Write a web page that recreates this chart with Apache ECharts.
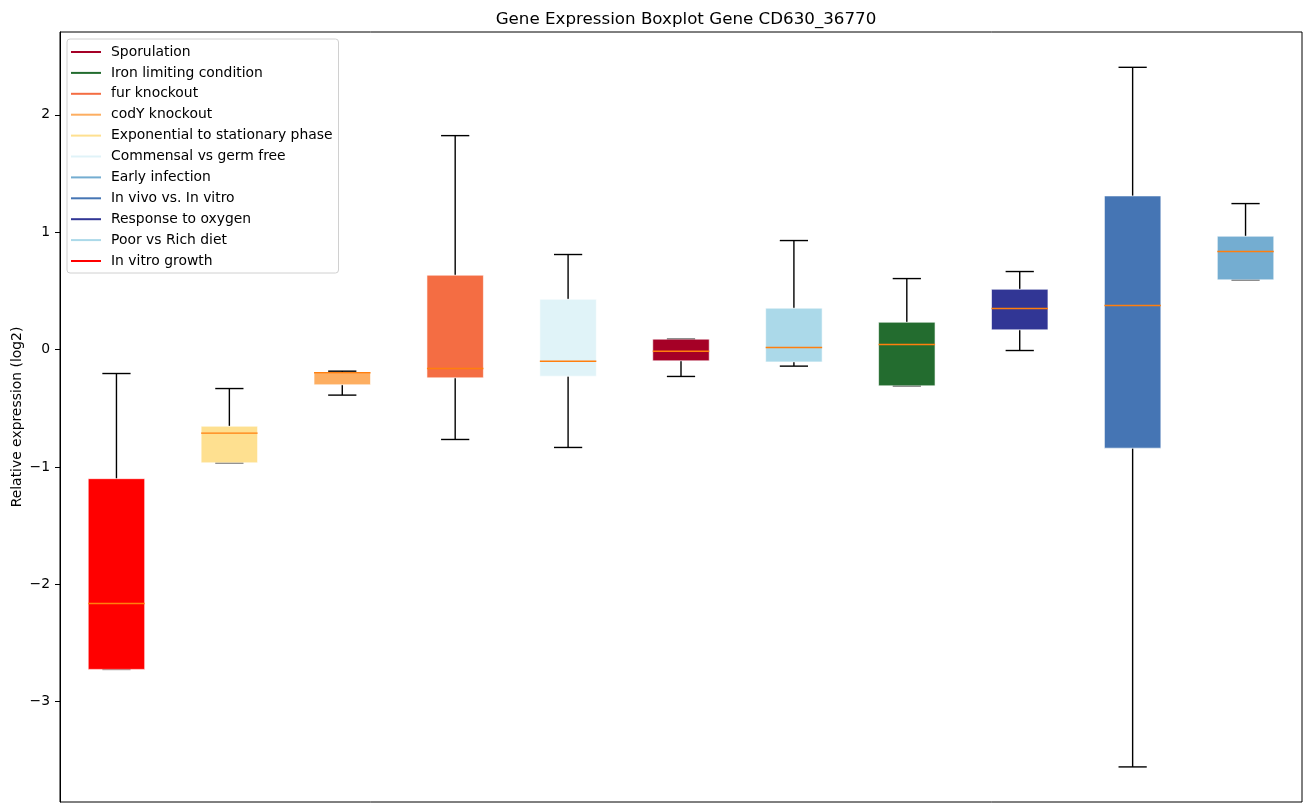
<!DOCTYPE html>
<html>
<head>
<meta charset="utf-8">
<script src="https://cdn.jsdelivr.net/npm/echarts@6/dist/echarts.min.js"></script>
<style>html,body{margin:0;padding:0;background:#fff;}#c{width:1309px;height:812px;}</style>
</head>
<body>
<div id="c"></div>
<script>
// Categories (box order left to right)
const categories = ["In vitro growth","Exponential to stationary phase","codY knockout","fur knockout","Commensal vs germ free","Sporulation","Poor vs Rich diet","Iron limiting condition","Response to oxygen","In vivo vs. In vitro","Early infection"];
// [min, Q1, median, Q3, max]
const mins    = [-2.725, -0.965, -0.388, -0.766, -0.834, -0.229, -0.141, -0.309, -0.008, -3.556, 0.594];
const q1s     = [-2.725, -0.965, -0.300, -0.241, -0.227, -0.096, -0.105, -0.309,  0.168, -0.840, 0.594];
const medians = [-2.163, -0.712, -0.198, -0.161, -0.099, -0.014,  0.018,  0.043,  0.350,  0.375, 0.836];
const q3s     = [-1.100, -0.653, -0.198,  0.634,  0.429,  0.089,  0.353,  0.233,  0.514,  1.309, 0.966];
const maxs    = [-0.204, -0.332, -0.184,  1.823,  0.810,  0.089,  0.929,  0.605,  0.665,  2.405, 1.244];
const boxColors = ["#ff0000","#fee090","#fdae61","#f46d43","#e0f3f8","#a50026","#abd9e9","#236c2f","#313695","#4575b4","#74add1"];
// Legend
const legendNames  = ["Sporulation","Iron limiting condition","fur knockout","codY knockout","Exponential to stationary phase","Commensal vs germ free","Early infection","In vivo vs. In vitro","Response to oxygen","Poor vs Rich diet","In vitro growth"];
const legendColors = ["#a50026","#236c2f","#f46d43","#fdae61","#fee090","#e0f3f8","#74add1","#4575b4","#313695","#abd9e9","#ff0000"];
const yTicks = [-3,-2,-1,0,1,2];

const FONT = "DejaVu Sans";
const chart = echarts.init(document.getElementById('c'), null, {renderer:'canvas'});

const boxData = categories.map((c,i)=>({value:[i, mins[i], q1s[i], medians[i], q3s[i], maxs[i]], itemStyle:{color:boxColors[i]}}));

const series = [{
  type:'custom',
  name:'boxes',
  data: boxData,
  encode:{x:0, y:[1,2,3,4,5]},
  renderItem:function(params, api){
    const x = api.value(0);
    const pMin = api.coord([x, api.value(1)]);
    const pQ1 = api.coord([x, api.value(2)]);
    const pMed = api.coord([x, api.value(3)]);
    const pQ3 = api.coord([x, api.value(4)]);
    const pMax = api.coord([x, api.value(5)]);
    const band = api.size([1,0])[0];
    const bw = band*0.5;
    const cw = bw*0.5;
    const cx = pMed[0];
    const lw = 1.4;
    const black = {stroke:'#000', lineWidth:lw};
    const color = boxColors[params.dataIndex];
    return {type:'group', children:[
      {type:'line', shape:{x1:cx,y1:pQ3[1],x2:cx,y2:pMax[1]}, style:black},
      {type:'line', shape:{x1:cx,y1:pQ1[1],x2:cx,y2:pMin[1]}, style:black},
      {type:'line', shape:{x1:cx-cw/2,y1:pMax[1],x2:cx+cw/2,y2:pMax[1]}, style:black},
      {type:'line', shape:{x1:cx-cw/2,y1:pMin[1],x2:cx+cw/2,y2:pMin[1]}, style:black},
      {type:'rect', shape:{x:cx-bw/2,y:pQ3[1],width:bw,height:Math.max(pQ1[1]-pQ3[1],0.5)}, style:{fill:color, stroke:'rgba(255,255,255,0.6)', lineWidth:1}},
      {type:'line', shape:{x1:cx-bw/2,y1:pMed[1],x2:cx+bw/2,y2:pMed[1]}, style:{stroke:'#ff7f0e', lineWidth:lw}}
    ]};
  }
}];
legendNames.forEach((n,i)=>{
  series.push({type:'line', name:n, data:[], itemStyle:{color:legendColors[i]}, lineStyle:{color:legendColors[i]}});
});

chart.setOption({
  backgroundColor:'#fff',
  animation:false,
  title:{text:'Gene Expression Boxplot Gene CD630_36770', left:681, top:6, textAlign:'center',
    textStyle:{fontFamily:FONT, fontSize:16.7, fontWeight:'normal', color:'#000'}},
  grid:{left:60, right:7, top:32, bottom:10, show:true, borderColor:'#000', borderWidth:1, containLabel:false, outerBoundsMode:'none'},
  legend:{
    data:legendNames, orient:'vertical', left:67, top:39,
    icon:'rect', itemWidth:30, itemHeight:2, itemGap:4.9,
    padding:[5,6,4,4], borderColor:'#d0d0d0', borderWidth:1, borderRadius:3, backgroundColor:'rgba(255,255,255,0.8)',
    textStyle:{fontFamily:FONT, fontSize:13.9, color:'#000', lineHeight:16, padding:[0,0,0,5]},
    selectedMode:false
  },
  xAxis:{type:'category', data:categories, boundaryGap:true, axisLine:{show:false}, axisTick:{show:false}, axisLabel:{show:false}, splitLine:{show:false}},
  yAxis:{type:'value', min:-3.855, max:2.706,
    name:'Relative expression (log2)', nameLocation:'middle', nameGap:36, nameRotate:90, nameMoveOverlap:false,
    nameTextStyle:{fontFamily:FONT, fontSize:13.9, color:'#000'},
    axisLine:{show:true, lineStyle:{color:'#000'}},
    axisTick:{show:true, length:5, lineStyle:{color:'#000'}, customValues:yTicks},
    axisLabel:{fontFamily:FONT, fontSize:13.9, color:'#000', margin:10, customValues:yTicks,
      formatter:function(v){ return (v<0?'\u2212':'') + Math.abs(v); }},
    splitLine:{show:false}
  },
  series:series
});
</script>
</body>
</html>
